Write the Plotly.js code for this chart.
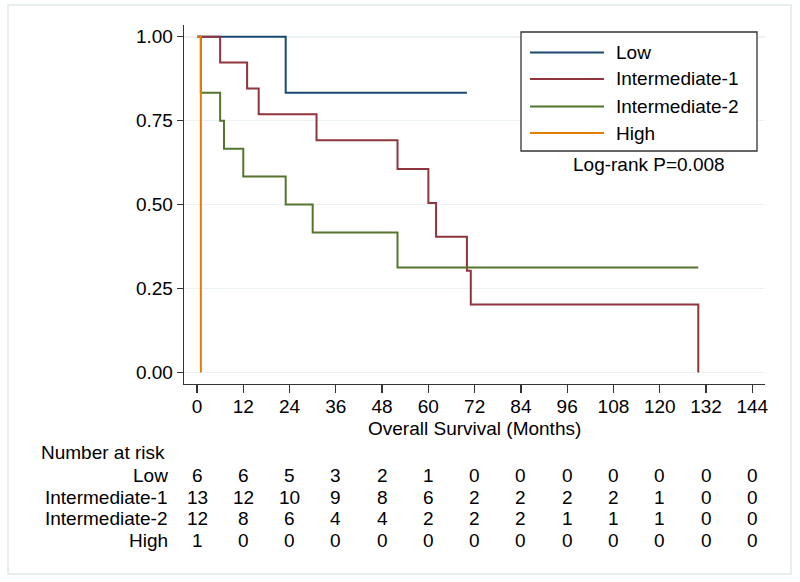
<!DOCTYPE html>
<html>
<head>
<meta charset="utf-8">
<script src="https://cdn.plot.ly/plotly-3.0.1.min.js"></script>
<style>
html,body{margin:0;padding:0;background:#fff;}
#chart{width:800px;height:582px;}
</style>
</head>
<body>
<div id="chart"></div>
<script>
// ---- Data ----
var groups = ["Low", "Intermediate-1", "Intermediate-2", "High"];
var colors = ["#1a476f", "#90353b", "#55752f", "#e37e00"];

var lowTime = [0, 23, 70];
var lowSurv = [1, 0.8333, 0.8333];

var int1Time = [0, 6, 13, 16, 31, 52, 60, 62, 70, 71, 130];
var int1Surv = [1, 0.923, 0.846, 0.769, 0.692, 0.606, 0.505, 0.404, 0.303, 0.202, 0];

var int2Time = [0, 1, 6, 7, 12, 23, 30, 52, 130];
var int2Surv = [1, 0.8333, 0.75, 0.6667, 0.5833, 0.5, 0.4167, 0.3125, 0.3125];

var highTime = [0, 1];
var highSurv = [1, 0];

var xTicks = [0, 12, 24, 36, 48, 60, 72, 84, 96, 108, 120, 132, 144];
var yTicks = [0, 0.25, 0.5, 0.75, 1];
var yTickText = ["0.00", "0.25", "0.50", "0.75", "1.00"];

var riskLow  = [6, 6, 5, 3, 2, 1, 0, 0, 0, 0, 0, 0, 0];
var riskInt1 = [13, 12, 10, 9, 8, 6, 2, 2, 2, 2, 1, 0, 0];
var riskInt2 = [12, 8, 6, 4, 4, 2, 2, 2, 1, 1, 1, 0, 0];
var riskHigh = [1, 0, 0, 0, 0, 0, 0, 0, 0, 0, 0, 0, 0];

var xTitle = "Overall Survival (Months)";
var riskTitle = "Number at risk";
var pText = "Log-rank P=0.008";

// ---- Layout geometry ----
var W = 800, H = 582;
var mL = 184, mR = 35, mT = 25, mB = 198;
var pw = W - mL - mR, ph = H - mT - mB;
function px2x(p){ return (p - mL) / pw; }
function py2y(p){ return (H - mB - p) / ph; }

var FONT = "Liberation Sans, Arial, Helvetica, sans-serif";
var FS = 19;

var times = [lowTime, int1Time, int2Time, highTime];
var survs = [lowSurv, int1Surv, int2Surv, highSurv];
var traces = [];
for (var i = 0; i < groups.length; i++) {
  traces.push({
    type: "scatter", mode: "lines", name: groups[i],
    x: times[i], y: survs[i],
    line: {shape: "hv", color: colors[i], width: 2},
    hoverinfo: "skip", showlegend: false
  });
}

var shapes = [];
var annotations = [];

// outer frame
shapes.push({type: "rect", xref: "paper", yref: "paper", layer: "below",
  x0: px2x(8), x1: px2x(791), y0: py2y(574), y1: py2y(5),
  line: {color: "#e6eef0", width: 2}, fillcolor: "rgba(0,0,0,0)"});

// legend box
var legL = 521, legR = 757, legT = 32, legB = 151;
shapes.push({type: "rect", xref: "paper", yref: "paper",
  x0: px2x(legL), x1: px2x(legR), y0: py2y(legB), y1: py2y(legT),
  line: {color: "#333333", width: 1.3}, fillcolor: "#ffffff"});
var legRows = [52.5, 79, 106.5, 133];
for (var i = 0; i < groups.length; i++) {
  shapes.push({type: "line", xref: "paper", yref: "paper",
    x0: px2x(530), x1: px2x(604), y0: py2y(legRows[i]), y1: py2y(legRows[i]),
    line: {color: colors[i], width: 2}});
  annotations.push({xref: "paper", yref: "paper", x: px2x(614), y: py2y(legRows[i]),
    xanchor: "left", yanchor: "middle", showarrow: false, text: groups[i],
    font: {family: FONT, size: FS, color: "#000"}});
}

// log-rank text
annotations.push({xref: "paper", yref: "paper", x: px2x(649), y: py2y(164),
  xanchor: "center", yanchor: "middle", showarrow: false, text: pText,
  font: {family: FONT, size: FS, color: "#000"}});

// x axis title
annotations.push({xref: "paper", yref: "paper", x: 0.5, y: py2y(428),
  xanchor: "center", yanchor: "middle", showarrow: false, text: xTitle,
  font: {family: FONT, size: FS, color: "#000"}});

// number at risk table
annotations.push({xref: "paper", yref: "paper", x: px2x(39), y: py2y(452),
  xanchor: "left", yanchor: "middle", showarrow: false, text: riskTitle,
  font: {family: FONT, size: FS, color: "#000"}});
var riskRows = [riskLow, riskInt1, riskInt2, riskHigh];
var riskY = [475.5, 497, 518.5, 540.5];
for (var r = 0; r < riskRows.length; r++) {
  annotations.push({xref: "paper", yref: "paper", x: px2x(170), y: py2y(riskY[r]),
    xanchor: "right", yanchor: "middle", showarrow: false, text: groups[r],
    font: {family: FONT, size: FS, color: "#000"}});
  for (var c = 0; c < xTicks.length; c++) {
    annotations.push({xref: "x", yref: "paper", x: xTicks[c], y: py2y(riskY[r]),
      xanchor: "center", yanchor: "middle", showarrow: false, text: String(riskRows[r][c]),
      font: {family: FONT, size: FS, color: "#000"}});
  }
}

var layout = {
  width: W, height: H,
  margin: {l: mL, r: mR, t: mT, b: mB, pad: 0},
  paper_bgcolor: "#ffffff", plot_bgcolor: "#ffffff",
  font: {family: FONT, size: FS, color: "#000"},
  showlegend: false,
  xaxis: {
    range: [-3.37, 147.3], tickvals: xTicks, ticktext: xTicks.map(String),
    showgrid: false, zeroline: false, showline: true, linecolor: "#333333", linewidth: 1.3,
    ticks: "outside", ticklen: 8, tickwidth: 1.3, tickcolor: "#333333",
    ticklabelstandoff: -3,
    tickfont: {family: FONT, size: FS, color: "#000"}, fixedrange: true
  },
  yaxis: {
    range: [-0.0345, 1.035], tickvals: yTicks, ticktext: yTickText,
    showgrid: true, gridcolor: "#eaf2f3", gridwidth: 1.5,
    zeroline: false, showline: true, linecolor: "#333333", linewidth: 1.3,
    ticks: "outside", ticklen: 6, tickwidth: 1.3, tickcolor: "#333333",
    tickfont: {family: FONT, size: FS, color: "#000"}, fixedrange: true
  },
  shapes: shapes,
  annotations: annotations
};

Plotly.newPlot("chart", traces, layout, {displayModeBar: false, staticPlot: true});
</script>
</body>
</html>
